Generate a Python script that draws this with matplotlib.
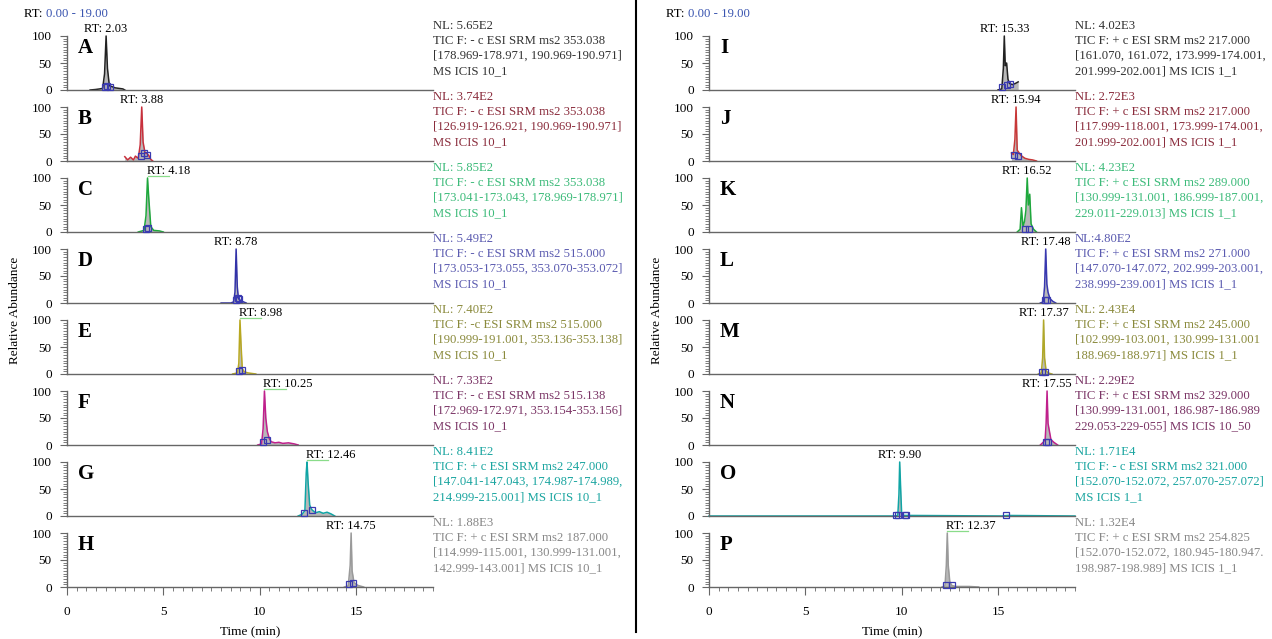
import matplotlib
matplotlib.use("Agg")
import matplotlib.pyplot as plt
from matplotlib.ticker import MultipleLocator

plt.rcParams['font.family'] = ['Liberation Serif', 'DejaVu Serif']

# ---- data ----
letters = ['A', 'B', 'C', 'D', 'E', 'F', 'G', 'H',
           'I', 'J', 'K', 'L', 'M', 'N', 'O', 'P']
rt_values = [2.03, 3.88, 4.18, 8.78, 8.98, 10.25, 12.46, 14.75,
             15.33, 15.94, 16.52, 17.48, 17.37, 17.55, 9.90, 12.37]

# chromatogram traces (time in min, relative abundance %)
trace_t = [
    [1.2, 1.5, 1.7, 1.85, 1.95, 2.03, 2.1, 2.2, 2.35, 2.5, 2.7, 2.9, 3.0],
    [3.0, 3.15, 3.3, 3.45, 3.55, 3.7, 3.8, 3.88, 3.95, 4.05, 4.15, 4.25, 4.35, 4.45],
    [3.7, 3.9, 4.0, 4.1, 4.18, 4.25, 4.35, 4.5, 4.8, 5.0],
    [8.0, 8.5, 8.65, 8.72, 8.78, 8.84, 8.9, 9.0, 9.1, 9.3],
    [8.6, 8.85, 8.92, 8.98, 9.04, 9.1, 9.2, 9.4, 9.8],
    [9.9, 10.1, 10.18, 10.25, 10.32, 10.4, 10.5, 10.6, 10.8, 11.0, 11.2, 11.5, 11.8, 12.0],
    [12.0, 12.2, 12.35, 12.42, 12.46, 12.52, 12.6, 12.7, 12.9, 13.1, 13.3, 13.5, 13.7, 13.9],
    [14.4, 14.6, 14.7, 14.75, 14.8, 14.9, 15.1, 15.4],
    [15.0, 15.2, 15.28, 15.33, 15.38, 15.45, 15.52, 15.6, 15.75, 15.9, 16.05],
    [15.7, 15.8, 15.88, 15.94, 16.0, 16.1, 16.2, 16.4, 16.6, 16.8, 17.0],
    [16.0, 16.15, 16.22, 16.3, 16.38, 16.45, 16.52, 16.58, 16.65, 16.72, 16.85, 17.0],
    [17.2, 17.35, 17.42, 17.48, 17.54, 17.6, 17.7, 17.85, 18.0],
    [17.1, 17.25, 17.32, 17.37, 17.42, 17.5, 17.6, 17.8],
    [17.2, 17.35, 17.45, 17.5, 17.55, 17.6, 17.65, 17.75, 17.9, 18.1],
    [0.0, 9.6, 9.8, 9.86, 9.9, 9.95, 10.0, 10.1, 10.5, 15.2, 15.5, 19.0],
    [12.1, 12.25, 12.32, 12.37, 12.42, 12.5, 12.6, 12.8, 13.0, 13.5, 14.0],
]
trace_y = [
    [0, 1, 2, 3, 30, 100, 40, 8, 6, 4, 3, 2, 0],
    [8, 2, 7, 2, 9, 5, 30, 100, 35, 15, 14, 10, 3, 0],
    [0, 2, 3, 30, 100, 60, 10, 3, 2, 0],
    [0, 0, 2, 20, 100, 30, 8, 5, 3, 0],
    [0, 2, 20, 100, 50, 10, 4, 2, 0],
    [0, 2, 30, 100, 50, 25, 12, 6, 4, 5, 3, 4, 2, 0],
    [0, 3, 10, 80, 100, 60, 20, 12, 6, 8, 5, 7, 4, 0],
    [0, 2, 40, 100, 30, 8, 3, 0],
    [0, 2, 40, 100, 45, 50, 20, 12, 10, 12, 15],
    [15, 12, 40, 100, 20, 15, 10, 5, 3, 2, 0],
    [0, 5, 45, 10, 20, 40, 100, 50, 70, 15, 5, 0],
    [0, 2, 30, 100, 35, 20, 8, 3, 0],
    [0, 2, 30, 100, 30, 6, 2, 0],
    [0, 5, 10, 40, 100, 40, 30, 10, 5, 0],
    [0, 0, 1, 40, 100, 50, 5, 1, 1, 0, 1, 0],
    [0, 2, 40, 100, 40, 10, 3, 1, 1, 1, 0],
]
# integration marks (small squares)
mark_t = [
    [1.95, 2.1, 2.25], [3.85, 4.0, 4.15], [4.1, 4.2], [8.75, 8.9, 8.95],
    [8.95, 9.1], [10.2, 10.4], [12.3, 12.7], [14.65, 14.85],
    [15.2, 15.45, 15.65], [15.85, 16.05], [16.4, 16.6], [17.45, 17.55],
    [17.3, 17.45], [17.5, 17.6], [9.7, 9.8, 10.15, 10.25, 15.4], [12.3, 12.6],
]
mark_y = [
    [5, 8, 6], [10, 14, 12], [6, 8], [6, 10, 8],
    [6, 8], [6, 10], [5, 12], [5, 7],
    [5, 10, 12], [12, 10], [5, 6], [5, 6],
    [3, 4], [6, 5], [2, 2, 2, 2, 1], [3, 4],
]

nl_texts = [
    "NL: 5.65E2\nTIC F: - c ESI SRM ms2 353.038\n[178.969-178.971, 190.969-190.971]\nMS ICIS 10_1",
    "NL: 3.74E2\nTIC F: - c ESI SRM ms2 353.038\n[126.919-126.921, 190.969-190.971]\nMS ICIS 10_1",
    "NL: 5.85E2\nTIC F: - c ESI SRM ms2 353.038\n[173.041-173.043, 178.969-178.971]\nMS ICIS 10_1",
    "NL: 5.49E2\nTIC F: - c ESI SRM ms2 515.000\n[173.053-173.055, 353.070-353.072]\nMS ICIS 10_1",
    "NL: 7.40E2\nTIC F: -c ESI SRM ms2 515.000\n[190.999-191.001, 353.136-353.138]\nMS ICIS 10_1",
    "NL: 7.33E2\nTIC F: - c ESI SRM ms2 515.138\n[172.969-172.971, 353.154-353.156]\nMS ICIS 10_1",
    "NL: 8.41E2\nTIC F: + c ESI SRM ms2 247.000\n[147.041-147.043, 174.987-174.989,\n214.999-215.001] MS ICIS 10_1",
    "NL: 1.88E3\nTIC F: + c ESI SRM ms2 187.000\n[114.999-115.001, 130.999-131.001,\n142.999-143.001] MS ICIS 10_1",
    "NL: 4.02E3\nTIC F: + c ESI SRM ms2 217.000\n[161.070, 161.072, 173.999-174.001,\n201.999-202.001] MS ICIS 1_1",
    "NL: 2.72E3\nTIC F: + c ESI SRM ms2 217.000\n[117.999-118.001, 173.999-174.001,\n201.999-202.001] MS ICIS 1_1",
    "NL: 4.23E2\nTIC F: + c ESI SRM ms2 289.000\n[130.999-131.001, 186.999-187.001,\n229.011-229.013] MS ICIS 1_1",
    "NL:4.80E2\nTIC F: + c ESI SRM ms2 271.000\n[147.070-147.072, 202.999-203.001,\n238.999-239.001] MS ICIS 1_1",
    "NL: 2.43E4\nTIC F: + c ESI SRM ms2 245.000\n[102.999-103.001, 130.999-131.001\n188.969-188.971] MS ICIS 1_1",
    "NL: 2.29E2\nTIC F: + c ESI SRM ms2 329.000\n[130.999-131.001, 186.987-186.989\n229.053-229-055] MS ICIS 10_50",
    "NL: 1.71E4\nTIC F: - c ESI SRM ms2 321.000\n[152.070-152.072, 257.070-257.072]\nMS ICIS 1_1",
    "NL: 1.32E4\nTIC F: + c ESI SRM ms2 254.825\n[152.070-152.072, 180.945-180.947.\n198.987-198.989] MS ICIS 1_1",
]

# ---- styles ----
trace_colors = ['#222222', '#c8303c', '#1ea83c', '#3232a8', '#b8a820', '#c0208c', '#10a5a5', '#9a9a9a',
                '#222222', '#c83838', '#1ea83c', '#3838b0', '#b0a828', '#c0208c', '#10a5a5', '#9a9a9a']
text_colors = ['#333333', '#8b2d3d', '#3dbb7a', '#5b5bb0', '#8a8a3c', '#7b3566', '#1aa5a0', '#888888',
               '#333333', '#8b2d3d', '#3dbb7a', '#5b5bb0', '#8a8a3c', '#7b3566', '#1aa5a0', '#888888']
label_ha = ['center', 'center', 'left', 'center', 'left', 'left', 'left', 'center',
            'center', 'center', 'center', 'center', 'center', 'center', 'center', 'left']
leader = [False, False, True, False, True, True, True, False,
          False, False, False, False, False, False, False, True]

W, H = 1272, 639
fig = plt.figure(figsize=(W / 100, H / 100), dpi=100)

col_x0 = [67, 709]
ax_w = 366
panel_h = 54
pitch = 71
first_zero = 90

for k in range(16):
    col, row = divmod(k, 8)
    y0 = first_zero + pitch * row
    ax = fig.add_axes([col_x0[col] / W, (H - y0) / H, ax_w / W, panel_h / H])
    t, y = trace_t[k], trace_y[k]
    ax.fill_between(t, 0, y, color='#b8b8b8', lw=0, zorder=1)
    ax.plot(t, y, color=trace_colors[k], lw=1.1, zorder=2, clip_on=False)
    ax.plot(mark_t[k], mark_y[k], 's', ms=5, mfc='none', mec='#3a3ab0', mew=0.9,
            zorder=3, clip_on=False)
    if leader[k]:
        ax.plot([rt_values[k], rt_values[k] + 1.1], [104, 104], color='#8adc8a', lw=0.9,
                clip_on=False)
    ax.text(rt_values[k] - (0.05 if label_ha[k] == 'left' else 0), 101, 'RT: %.2f' % rt_values[k],
            ha=label_ha[k], va='bottom', fontsize=9)
    ax.text(0.03, 0.78, letters[k], transform=ax.transAxes, fontsize=15, fontweight='bold',
            ha='left', va='center')
    ax.text(1.0, 1.0 + 16 / panel_h, nl_texts[k], transform=ax.transAxes, ha='left', va='top',
            fontsize=9.2, color=text_colors[k], linespacing=1.33)

    ax.set_xlim(0, 19)
    ax.set_ylim(0, 100)
    for s in ['top', 'right']:
        ax.spines[s].set_visible(False)
    for s in ['left', 'bottom']:
        ax.spines[s].set_color('#666666')
        ax.spines[s].set_linewidth(1.0)
    ax.set_yticks([0, 50, 100])
    ax.yaxis.set_minor_locator(MultipleLocator(5))
    ax.tick_params(axis='y', which='major', direction='out', length=5, width=0.8,
                   colors='#666666', labelcolor='black', labelsize=9.5, pad=6)
    ax.tick_params(axis='y', which='minor', direction='out', length=3, width=0.6, colors='#666666')
    ax.patch.set_alpha(0)
    if row == 7:
        ax.set_xticks([0, 5, 10, 15])
        ax.xaxis.set_minor_locator(MultipleLocator(0.5))
        ax.tick_params(axis='x', which='major', direction='out', length=6, width=0.8,
                       colors='#666666', labelcolor='black', labelsize=9.5, pad=8)
        ax.tick_params(axis='x', which='minor', direction='out', length=3, width=0.6, colors='#666666')
        ax.set_xlabel('Time (min)', fontsize=9.5, labelpad=6)
    else:
        ax.set_xticks([])

for col in range(2):
    xl = col_x0[col]
    fig.text((xl - 43) / W, 1 - 14 / H, 'RT: ', fontsize=9.2, ha='left', va='center')
    fig.text((xl - 43 + 22) / W, 1 - 14 / H, '0.00 - 19.00', fontsize=9.2, ha='left', va='center',
             color='#3a55b0')
    fig.text((xl - 52) / W, 1 - 310 / H, 'Relative Abundance', rotation=90, fontsize=9.5,
             ha='center', va='center')

fig.add_artist(plt.Line2D([636 / W, 636 / W], [1.0, 1 - 632 / H], color='black', lw=1.5))

fig.savefig('out.png', dpi=100)
